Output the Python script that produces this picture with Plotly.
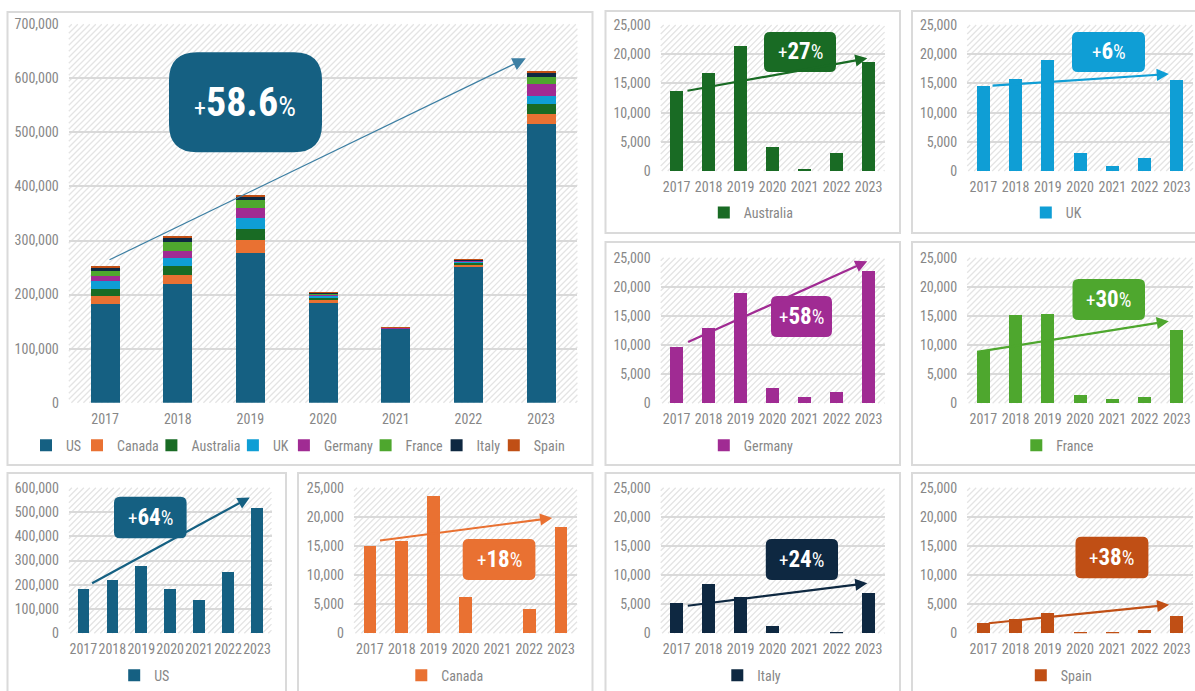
import plotly.graph_objects as go

W, H = 1195, 691
FONT = "Liberation Sans Narrow, Roboto Condensed, Arial Narrow, Roboto, sans-serif"
GREY = "#878787"
GRID = "#d9d9d9"
HATCH = "#e4e4e4"
CARD = "#dadada"

# ---------------- data ----------------
years = ["2017", "2018", "2019", "2020", "2021", "2022", "2023"]
countries = ["US", "Canada", "Australia", "UK", "Germany", "France", "Italy", "Spain"]
us = [182000, 220000, 277000, 184000, 136000, 251000, 515000]
canada = [15000, 15900, 23600, 6200, 0, 4200, 18200]
australia = [13700, 16700, 21400, 4100, 200, 3000, 18700]
uk = [14600, 15800, 19000, 3100, 900, 2200, 15500]
germany = [9600, 12900, 19000, 2600, 1000, 1900, 22700]
france = [8900, 15200, 15400, 1400, 700, 1100, 12600]
italy = [5200, 8400, 6200, 1200, 0, 300, 7000]
spain = [1800, 2400, 3500, 300, 300, 500, 3000]
growth_main = "58.6"
growth_labels = {"Australia": "27", "UK": "6", "Germany": "58", "France": "30",
                 "US": "64", "Canada": "18", "Italy": "24", "Spain": "38"}
colors = {"US": "#156082", "Canada": "#E97132", "Australia": "#196B24", "UK": "#0F9ED5",
          "Germany": "#A02B93", "France": "#4EA72E", "Italy": "#0E2841", "Spain": "#C04F15"}
values = {"US": us, "Canada": canada, "Australia": australia, "UK": uk,
          "Germany": germany, "France": france, "Italy": italy, "Spain": spain}

# ---------------- layout geometry (pixels) ----------------
# name: (axis suffix, plot rect, card rect, y max, dtick, legend y, legend symbol x, box rect, trend tail, trend head)
panels = {
    "main":      ("",  (68.8, 24.3, 577.4, 402.7), (7.5, 12, 592.5, 465), 700000, 100000, 445.7, None,
                  (169, 52.3, 322, 152.3), (0.04, 263000), (5.79, 637000)),
    "Australia": ("2", (660.7, 25, 884.6, 171), (605.5, 11, 900, 233), 25000, 5000, 213, 723.8,
                  (764, 32, 836, 72), (0.29, 13700), (5.96, 19300)),
    "UK":        ("3", (967.2, 25, 1193, 171), (912, 11, 1210, 233), 25000, 5000, 213, 1045.8,
                  (1072, 32, 1145, 72), (0.24, 14600), (5.75, 16600)),
    "Germany":   ("4", (660.7, 257.7, 884.6, 403.3), (605.5, 242, 900, 465), 25000, 5000, 445.7, 723.8,
                  (771, 296, 832, 337), (0.31, 10400), (5.96, 24400)),
    "France":    ("5", (967.2, 257.7, 1193, 403.3), (912, 242, 1210, 465), 25000, 5000, 445.7, 1036.3,
                  (1072.5, 279, 1145, 320), (-0.24, 8800), (5.75, 14100)),
    "US":        ("6", (68.9, 487.7, 271.5, 633.3), (7.5, 473, 286, 710), 600000, 100000, 675.7, 134.2,
                  (114, 496.7, 186.6, 538.3), (0.25, 203000), (5.75, 560000)),
    "Canada":    ("7", (354, 487.7, 577, 633.3), (298, 473, 592.5, 710), 25000, 5000, 675.7, 421.3,
                  (462.7, 539, 535.4, 580), (0.27, 15900), (5.72, 19800)),
    "Italy":     ("8", (660.7, 487.7, 884.6, 633.3), (605.5, 473, 900, 710), 25000, 5000, 675.7, 737.3,
                  (765.8, 539, 838, 580), (0.3, 4700), (5.96, 8600)),
    "Spain":     ("9", (967.2, 487.7, 1193, 633.3), (912, 473, 1210, 710), 25000, 5000, 675.7, 1040.8,
                  (1075.5, 536.7, 1148.4, 578.3), (0.12, 1700), (5.76, 4900)),
}
# legend symbol x positions for the stacked chart's items
main_legend_x = {"US": 46, "Canada": 97, "Australia": 171.4, "UK": 252.9,
                 "Germany": 303.9, "France": 385.6, "Italy": 456.6, "Spain": 513.8}
SYMBOL_OFFSET = 20  # plotly: symbol centre sits 20px right of legend box left


def px(x, y):
    return x / W, 1 - y / H


def rrect(x0, y0, x1, y1, r):
    def P(x, y):
        a, b = px(x, y)
        return f"{a:.5f},{b:.5f}"
    return (f"M{P(x0+r, y0)}L{P(x1-r, y0)}Q{P(x1, y0)} {P(x1, y0+r)}"
            f"L{P(x1, y1-r)}Q{P(x1, y1)} {P(x1-r, y1)}L{P(x0+r, y1)}"
            f"Q{P(x0, y1)} {P(x0, y1-r)}L{P(x0, y0+r)}Q{P(x0, y0)} {P(x0+r, y0)}Z")


def hatch(x0, y0, x1, y1, step=6.0):
    segs = []
    c = x0 + y0 + step / 2
    while c < x1 + y1:
        xa = max(x0, c - y1)
        xb = min(x1, c - y0)
        if xb > xa:
            a1, b1 = px(xa, c - xa)
            a2, b2 = px(xb, c - xb)
            segs.append(f"M{a1:.5f},{b1:.5f}L{a2:.5f},{b2:.5f}")
        c += step
    return "".join(segs)


def legend_cfg(sym_x, y_px):
    return dict(orientation="h", x=(sym_x - SYMBOL_OFFSET) / W, xanchor="left",
                y=1 - y_px / H, yanchor="middle", bgcolor="rgba(0,0,0,0)", borderwidth=0,
                font=dict(family=FONT, size=14, color=GREY),
                itemclick=False, itemdoubleclick=False, itemwidth=30)


fig = go.Figure()
shapes, annotations = [], []
layout = dict(width=W, height=H, margin=dict(l=0, r=0, t=0, b=0, autoexpand=False),
              paper_bgcolor="white", plot_bgcolor="rgba(0,0,0,0)",
              barmode="stack", bargap=0.6, showlegend=True,
              font=dict(family=FONT, color=GREY, size=14))

main_leg_ids = {}
for i, c in enumerate(countries):
    main_leg_ids[c] = "legend" if i == 0 else f"legend{20 + i}"

for name, (s, prect, crect, ymax, dtick, leg_y, leg_sx, box, tail, head) in panels.items():
    xr = "x" + s
    yr = "y" + s
    x0, y0, x1, y1 = prect
    # card + hatch
    cx0, cy0, cx1, cy1 = crect
    a0, b0 = px(cx0, cy1)
    a1, b1 = px(cx1, cy0)
    shapes.append(dict(type="rect", xref="paper", yref="paper", x0=a0, y0=b0, x1=a1, y1=b1,
                       line=dict(color=CARD, width=2), fillcolor="white", layer="below"))
    shapes.append(dict(type="path", xref="paper", yref="paper", path=hatch(x0, y0, x1, y1),
                       line=dict(color=HATCH, width=1.3), layer="below"))
    # traces + legends
    if name == "main":
        for c in countries:
            leg = main_leg_ids[c]
            fig.add_trace(go.Bar(x=years, y=values[c], name=c,
                                 marker=dict(color=colors[c], line=dict(width=0)),
                                 xaxis=xr, yaxis=yr, legend=leg))
            layout[leg] = legend_cfg(main_legend_x[c], leg_y)
    else:
        leg = "legend" + s
        fig.add_trace(go.Bar(x=years, y=values[name], name=name,
                             marker=dict(color=colors[name], line=dict(width=0)),
                             xaxis=xr, yaxis=yr, legend=leg))
        layout[leg] = legend_cfg(leg_sx, leg_y)
    # axes
    layout["xaxis" + s] = dict(domain=[x0 / W, x1 / W], anchor=yr, type="category",
                               showgrid=False, zeroline=False, showline=False, ticks="",
                               tickangle=0, automargin=False,
                               tickfont=dict(family=FONT, size=14, color=GREY), ticklabelstandoff=6,
                               fixedrange=True)
    layout["yaxis" + s] = dict(domain=[1 - y1 / H, 1 - y0 / H], anchor=xr, range=[0, ymax],
                               dtick=dtick, tickformat=",", showgrid=True, gridcolor=GRID, gridwidth=1.6,
                               zeroline=False, showline=False, ticks="", automargin=False,
                               tickfont=dict(family=FONT, size=14, color=GREY), ticklabelstandoff=9,
                               fixedrange=True)
    # growth box
    bx0, by0, bx1, by1 = box
    col = colors["US"] if name == "main" else colors[name]
    radius = 28 if name == "main" else 6
    shapes.append(dict(type="path", xref="paper", yref="paper", path=rrect(bx0, by0, bx1, by1, radius),
                       fillcolor=col, line=dict(width=0), layer="above"))
    tx, ty = px((bx0 + bx1) / 2, (by0 + by1) / 2)
    if name == "main":
        txt = ('<span style="font-size:24px">+</span>'
               f'<span style="font-size:40px;font-weight:bold">{growth_main}</span>'
               '<span style="font-size:28px">%</span>')
    else:
        txt = ('<span style="font-size:19px">+</span>'
               f'<span style="font-size:23px;font-weight:bold">{growth_labels[name]}</span>'
               '<span style="font-size:20px">%</span>')
    annotations.append(dict(xref="paper", yref="paper", x=tx, y=ty, xanchor="center", yanchor="middle",
                            text=txt, showarrow=False, font=dict(family=FONT, color="white")))
    # trend arrow
    annotations.append(dict(xref=xr, yref=yr, axref=xr, ayref=yr, x=head[0], y=head[1],
                            ax=tail[0], ay=tail[1], text="", showarrow=True, arrowhead=2,
                            arrowsize=2.2 if name == "main" else 1.1,
                            arrowwidth=1.2 if name == "main" else 2.2,
                            arrowcolor="#3d7fa3" if name == "main" else col))

layout["shapes"] = shapes
layout["annotations"] = annotations
fig.update_layout(**layout)

fig.write_html("out.html", config={"displayModeBar": False},
               post_script="document.body.style.margin='0';")
